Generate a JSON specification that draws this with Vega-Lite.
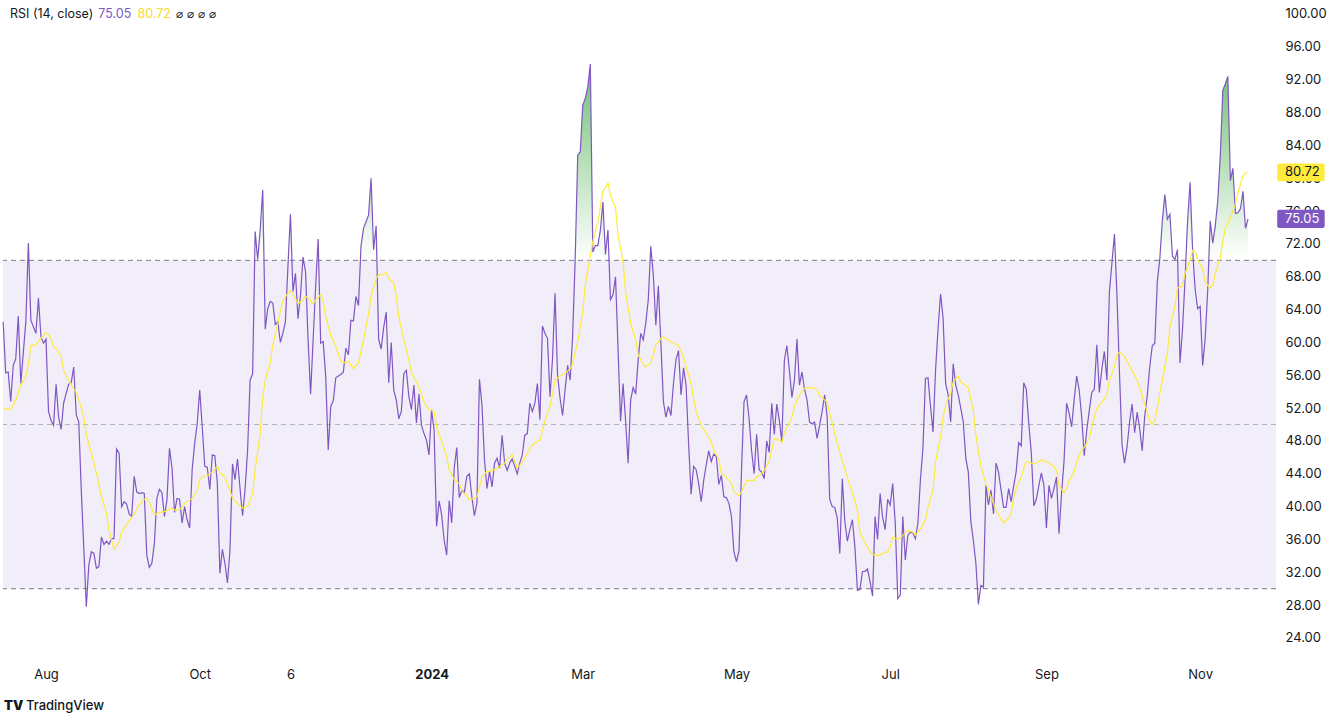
{
"$schema": "https://vega.github.io/schema/vega-lite/v6.json",
"width": 1273, "height": 660,
"padding": {"left": 3, "right": 66, "top": 0, "bottom": 60},
"autosize": {"type": "none"},
"background": "#ffffff",
"config": {"view": {"stroke": null}, "font": "Inter", "text": {"font": "Inter"}},
"datasets": {
"one": [{}],
"rsi": [
{"d":"2023-07-15","v":62.5},{"d":"2023-07-16","v":56.3},{"d":"2023-07-17","v":56.4},{"d":"2023-07-18","v":52.8},{"d":"2023-07-19","v":57.2},{"d":"2023-07-20","v":58.0},{"d":"2023-07-21","v":63.2},{"d":"2023-07-22","v":55.0},{"d":"2023-07-24","v":62.5},{"d":"2023-07-25","v":72.1},{"d":"2023-07-26","v":62.7},{"d":"2023-07-27","v":61.9},{"d":"2023-07-28","v":61.1},{"d":"2023-07-29","v":65.4},{"d":"2023-07-30","v":60.7},{"d":"2023-07-31","v":59.9},
{"d":"2023-08-01","v":60.4},{"d":"2023-08-02","v":51.6},{"d":"2023-08-03","v":50.5},{"d":"2023-08-04","v":49.9},{"d":"2023-08-05","v":54.9},{"d":"2023-08-06","v":50.9},{"d":"2023-08-07","v":49.4},{"d":"2023-08-08","v":52.6},{"d":"2023-08-09","v":53.8},{"d":"2023-08-10","v":54.9},{"d":"2023-08-11","v":55.1},{"d":"2023-08-12","v":57.0},{"d":"2023-08-13","v":51.2},{"d":"2023-08-14","v":50.3},{"d":"2023-08-15","v":42.0},{"d":"2023-08-16","v":34.9},{"d":"2023-08-17","v":27.8},{"d":"2023-08-18","v":32.9},{"d":"2023-08-19","v":34.5},{"d":"2023-08-20","v":34.3},{"d":"2023-08-21","v":32.5},{"d":"2023-08-22","v":32.7},{"d":"2023-08-23","v":36.3},{"d":"2023-08-24","v":35.4},{"d":"2023-08-25","v":35.8},{"d":"2023-08-26","v":35.4},{"d":"2023-08-27","v":36.1},{"d":"2023-08-28","v":36.1},{"d":"2023-08-29","v":47.0},{"d":"2023-08-30","v":46.5},{"d":"2023-08-31","v":40.0},
{"d":"2023-09-01","v":40.6},{"d":"2023-09-02","v":40.3},{"d":"2023-09-03","v":39.1},{"d":"2023-09-04","v":38.8},{"d":"2023-09-05","v":43.7},{"d":"2023-09-06","v":41.8},{"d":"2023-09-07","v":41.6},{"d":"2023-09-08","v":41.7},{"d":"2023-09-09","v":41.6},{"d":"2023-09-10","v":34.1},{"d":"2023-09-11","v":32.6},{"d":"2023-09-12","v":33.1},{"d":"2023-09-13","v":35.5},{"d":"2023-09-14","v":41.0},{"d":"2023-09-15","v":42.1},{"d":"2023-09-16","v":41.7},{"d":"2023-09-17","v":38.8},{"d":"2023-09-18","v":40.8},{"d":"2023-09-19","v":47.1},{"d":"2023-09-20","v":44.7},{"d":"2023-09-21","v":39.3},{"d":"2023-09-22","v":41.0},{"d":"2023-09-23","v":40.9},{"d":"2023-09-24","v":38.0},{"d":"2023-09-25","v":40.0},{"d":"2023-09-26","v":38.4},{"d":"2023-09-27","v":37.4},{"d":"2023-09-28","v":44.5},{"d":"2023-09-29","v":47.7},{"d":"2023-09-30","v":50.1},
{"d":"2023-10-01","v":54.2},{"d":"2023-10-02","v":49.7},{"d":"2023-10-03","v":44.9},{"d":"2023-10-04","v":44.8},{"d":"2023-10-05","v":42.1},{"d":"2023-10-06","v":46.3},{"d":"2023-10-07","v":46.2},{"d":"2023-10-08","v":42.8},{"d":"2023-10-09","v":31.9},{"d":"2023-10-10","v":34.8},{"d":"2023-10-11","v":33.1},{"d":"2023-10-12","v":30.7},{"d":"2023-10-13","v":34.7},{"d":"2023-10-14","v":45.2},{"d":"2023-10-15","v":43.3},{"d":"2023-10-16","v":45.8},{"d":"2023-10-17","v":42.2},{"d":"2023-10-18","v":38.9},{"d":"2023-10-19","v":42.1},{"d":"2023-10-20","v":46.9},{"d":"2023-10-21","v":55.4},{"d":"2023-10-22","v":56.2},{"d":"2023-10-23","v":73.5},{"d":"2023-10-24","v":70.1},{"d":"2023-10-25","v":73.7},{"d":"2023-10-26","v":78.6},{"d":"2023-10-27","v":61.6},{"d":"2023-10-28","v":64.1},{"d":"2023-10-29","v":65.0},{"d":"2023-10-30","v":64.8},{"d":"2023-10-31","v":62.2},
{"d":"2023-11-01","v":62.5},{"d":"2023-11-02","v":60.0},{"d":"2023-11-03","v":61.1},{"d":"2023-11-04","v":62.5},{"d":"2023-11-05","v":69.2},{"d":"2023-11-06","v":75.6},{"d":"2023-11-07","v":66.2},{"d":"2023-11-08","v":68.4},{"d":"2023-11-09","v":62.9},{"d":"2023-11-10","v":65.8},{"d":"2023-11-11","v":70.4},{"d":"2023-11-12","v":68.6},{"d":"2023-11-13","v":60.3},{"d":"2023-11-14","v":53.7},{"d":"2023-11-15","v":60.3},{"d":"2023-11-16","v":66.8},{"d":"2023-11-17","v":72.6},{"d":"2023-11-18","v":59.9},{"d":"2023-11-19","v":60.1},{"d":"2023-11-20","v":55.8},{"d":"2023-11-21","v":46.9},{"d":"2023-11-22","v":52.2},{"d":"2023-11-23","v":52.9},{"d":"2023-11-24","v":55.7},{"d":"2023-11-25","v":55.9},{"d":"2023-11-26","v":56.1},{"d":"2023-11-27","v":56.4},{"d":"2023-11-28","v":59.3},{"d":"2023-11-29","v":58.5},{"d":"2023-11-30","v":62.7},
{"d":"2023-12-01","v":62.6},{"d":"2023-12-02","v":65.6},{"d":"2023-12-03","v":64.5},{"d":"2023-12-04","v":71.7},{"d":"2023-12-05","v":73.9},{"d":"2023-12-06","v":74.7},{"d":"2023-12-07","v":75.5},{"d":"2023-12-08","v":80.0},{"d":"2023-12-09","v":71.3},{"d":"2023-12-10","v":74.2},{"d":"2023-12-11","v":60.4},{"d":"2023-12-12","v":59.2},{"d":"2023-12-13","v":61.8},{"d":"2023-12-14","v":63.7},{"d":"2023-12-15","v":55.1},{"d":"2023-12-16","v":60.0},{"d":"2023-12-17","v":54.2},{"d":"2023-12-18","v":53.0},{"d":"2023-12-19","v":50.7},{"d":"2023-12-20","v":51.6},{"d":"2023-12-21","v":56.2},{"d":"2023-12-22","v":56.6},{"d":"2023-12-23","v":53.4},{"d":"2023-12-24","v":51.8},{"d":"2023-12-25","v":54.8},{"d":"2023-12-26","v":50.2},{"d":"2023-12-27","v":53.7},{"d":"2023-12-28","v":49.9},{"d":"2023-12-29","v":48.9},{"d":"2023-12-30","v":48.1},{"d":"2023-12-31","v":46.3},
{"d":"2024-01-01","v":51.8},{"d":"2024-01-02","v":49.3},{"d":"2024-01-03","v":37.6},{"d":"2024-01-04","v":40.7},{"d":"2024-01-05","v":39.0},{"d":"2024-01-06","v":35.9},{"d":"2024-01-07","v":34.1},{"d":"2024-01-08","v":40.7},{"d":"2024-01-09","v":38.0},{"d":"2024-01-10","v":44.7},{"d":"2024-01-11","v":47.2},{"d":"2024-01-12","v":41.1},{"d":"2024-01-13","v":42.0},{"d":"2024-01-14","v":41.7},{"d":"2024-01-15","v":43.7},{"d":"2024-01-16","v":44.0},{"d":"2024-01-17","v":41.2},{"d":"2024-01-18","v":38.9},{"d":"2024-01-19","v":40.4},{"d":"2024-01-20","v":55.5},{"d":"2024-01-21","v":52.4},{"d":"2024-01-22","v":45.7},{"d":"2024-01-23","v":42.2},{"d":"2024-01-24","v":44.3},{"d":"2024-01-25","v":42.4},{"d":"2024-01-26","v":45.3},{"d":"2024-01-27","v":45.9},{"d":"2024-01-28","v":44.7},{"d":"2024-01-29","v":48.7},{"d":"2024-01-30","v":45.3},{"d":"2024-01-31","v":44.4},
{"d":"2024-02-01","v":45.3},{"d":"2024-02-02","v":45.8},{"d":"2024-02-03","v":44.9},{"d":"2024-02-04","v":44.0},{"d":"2024-02-05","v":45.3},{"d":"2024-02-06","v":46.3},{"d":"2024-02-07","v":48.7},{"d":"2024-02-08","v":48.9},{"d":"2024-02-09","v":52.6},{"d":"2024-02-10","v":51.6},{"d":"2024-02-11","v":52.6},{"d":"2024-02-12","v":55.0},{"d":"2024-02-13","v":50.6},{"d":"2024-02-14","v":62.0},{"d":"2024-02-15","v":61.1},{"d":"2024-02-16","v":60.5},{"d":"2024-02-17","v":53.4},{"d":"2024-02-18","v":58.0},{"d":"2024-02-19","v":66.0},{"d":"2024-02-20","v":56.0},{"d":"2024-02-21","v":53.2},{"d":"2024-02-22","v":51.1},{"d":"2024-02-23","v":54.3},{"d":"2024-02-24","v":57.2},{"d":"2024-02-25","v":55.4},{"d":"2024-02-26","v":60.9},{"d":"2024-02-27","v":70.2},{"d":"2024-02-28","v":82.8},{"d":"2024-02-29","v":83.2},
{"d":"2024-03-01","v":88.9},{"d":"2024-03-02","v":89.7},{"d":"2024-03-03","v":91.1},{"d":"2024-03-04","v":93.9},{"d":"2024-03-05","v":71.0},{"d":"2024-03-06","v":71.8},{"d":"2024-03-07","v":71.8},{"d":"2024-03-08","v":73.7},{"d":"2024-03-09","v":77.1},{"d":"2024-03-10","v":70.7},{"d":"2024-03-11","v":73.7},{"d":"2024-03-12","v":65.2},{"d":"2024-03-13","v":65.8},{"d":"2024-03-14","v":68.0},{"d":"2024-03-15","v":59.3},{"d":"2024-03-16","v":50.4},{"d":"2024-03-17","v":55.0},{"d":"2024-03-18","v":50.5},{"d":"2024-03-19","v":45.3},{"d":"2024-03-20","v":53.0},{"d":"2024-03-21","v":54.5},{"d":"2024-03-22","v":53.7},{"d":"2024-03-23","v":57.9},{"d":"2024-03-24","v":61.1},{"d":"2024-03-25","v":60.3},{"d":"2024-03-26","v":62.3},{"d":"2024-03-27","v":65.2},{"d":"2024-03-28","v":71.7},{"d":"2024-03-29","v":68.2},{"d":"2024-03-30","v":62.1},{"d":"2024-03-31","v":66.9},
{"d":"2024-04-01","v":59.9},{"d":"2024-04-02","v":52.8},{"d":"2024-04-03","v":50.9},{"d":"2024-04-04","v":52.2},{"d":"2024-04-05","v":51.1},{"d":"2024-04-06","v":55.0},{"d":"2024-04-07","v":57.9},{"d":"2024-04-08","v":59.0},{"d":"2024-04-09","v":53.6},{"d":"2024-04-10","v":56.9},{"d":"2024-04-11","v":54.8},{"d":"2024-04-12","v":47.7},{"d":"2024-04-13","v":41.5},{"d":"2024-04-14","v":44.9},{"d":"2024-04-15","v":44.5},{"d":"2024-04-16","v":42.8},{"d":"2024-04-17","v":40.6},{"d":"2024-04-18","v":43.2},{"d":"2024-04-19","v":45.1},{"d":"2024-04-20","v":46.8},{"d":"2024-04-21","v":45.5},{"d":"2024-04-22","v":46.4},{"d":"2024-04-23","v":46.1},{"d":"2024-04-24","v":42.7},{"d":"2024-04-25","v":43.8},{"d":"2024-04-26","v":41.2},{"d":"2024-04-27","v":41.1},{"d":"2024-04-28","v":40.4},{"d":"2024-04-29","v":38.8},{"d":"2024-04-30","v":34.5},
{"d":"2024-05-01","v":33.3},{"d":"2024-05-02","v":34.6},{"d":"2024-05-03","v":44.5},{"d":"2024-05-04","v":52.8},{"d":"2024-05-05","v":53.6},{"d":"2024-05-06","v":50.7},{"d":"2024-05-07","v":46.8},{"d":"2024-05-08","v":44.0},{"d":"2024-05-09","v":48.8},{"d":"2024-05-10","v":44.5},{"d":"2024-05-11","v":44.2},{"d":"2024-05-12","v":43.4},{"d":"2024-05-13","v":48.0},{"d":"2024-05-14","v":46.6},{"d":"2024-05-15","v":52.6},{"d":"2024-05-16","v":48.8},{"d":"2024-05-17","v":52.5},{"d":"2024-05-18","v":50.5},{"d":"2024-05-19","v":47.9},{"d":"2024-05-20","v":57.8},{"d":"2024-05-21","v":59.6},{"d":"2024-05-22","v":56.6},{"d":"2024-05-23","v":53.3},{"d":"2024-05-24","v":55.4},{"d":"2024-05-25","v":60.4},{"d":"2024-05-26","v":54.8},{"d":"2024-05-27","v":56.4},{"d":"2024-05-28","v":54.3},{"d":"2024-05-29","v":53.0},{"d":"2024-05-30","v":50.3},{"d":"2024-05-31","v":50.1},
{"d":"2024-06-01","v":50.3},{"d":"2024-06-02","v":48.3},{"d":"2024-06-03","v":49.9},{"d":"2024-06-04","v":51.6},{"d":"2024-06-05","v":53.6},{"d":"2024-06-06","v":50.9},{"d":"2024-06-07","v":40.9},{"d":"2024-06-08","v":40.0},{"d":"2024-06-09","v":39.9},{"d":"2024-06-10","v":38.6},{"d":"2024-06-11","v":34.3},{"d":"2024-06-12","v":43.4},{"d":"2024-06-13","v":38.2},{"d":"2024-06-14","v":35.8},{"d":"2024-06-15","v":37.2},{"d":"2024-06-16","v":38.4},{"d":"2024-06-17","v":35.1},{"d":"2024-06-18","v":29.8},{"d":"2024-06-19","v":29.9},{"d":"2024-06-20","v":32.1},{"d":"2024-06-21","v":32.1},{"d":"2024-06-22","v":32.4},{"d":"2024-06-23","v":30.9},{"d":"2024-06-24","v":29.1},{"d":"2024-06-25","v":38.8},{"d":"2024-06-26","v":36.0},{"d":"2024-06-27","v":41.6},{"d":"2024-06-28","v":38.7},{"d":"2024-06-29","v":37.2},{"d":"2024-06-30","v":40.9},
{"d":"2024-07-01","v":40.2},{"d":"2024-07-02","v":42.8},{"d":"2024-07-03","v":38.0},{"d":"2024-07-04","v":28.8},{"d":"2024-07-05","v":29.2},{"d":"2024-07-06","v":38.8},{"d":"2024-07-07","v":33.5},{"d":"2024-07-08","v":36.5},{"d":"2024-07-09","v":36.9},{"d":"2024-07-10","v":36.8},{"d":"2024-07-11","v":36.1},{"d":"2024-07-12","v":38.0},{"d":"2024-07-13","v":43.3},{"d":"2024-07-14","v":47.1},{"d":"2024-07-15","v":55.6},{"d":"2024-07-16","v":55.7},{"d":"2024-07-17","v":52.2},{"d":"2024-07-18","v":49.1},{"d":"2024-07-19","v":56.6},{"d":"2024-07-20","v":61.7},{"d":"2024-07-21","v":65.9},{"d":"2024-07-22","v":62.9},{"d":"2024-07-23","v":55.0},{"d":"2024-07-24","v":53.6},{"d":"2024-07-25","v":50.3},{"d":"2024-07-26","v":57.4},{"d":"2024-07-27","v":54.8},{"d":"2024-07-28","v":53.6},{"d":"2024-07-29","v":52.0},{"d":"2024-07-30","v":50.3},{"d":"2024-07-31","v":45.9},
{"d":"2024-08-01","v":44.2},{"d":"2024-08-02","v":38.2},{"d":"2024-08-03","v":35.9},{"d":"2024-08-04","v":33.1},{"d":"2024-08-05","v":28.1},{"d":"2024-08-06","v":30.4},{"d":"2024-08-07","v":30.2},{"d":"2024-08-08","v":42.6},{"d":"2024-08-09","v":40.2},{"d":"2024-08-10","v":42.0},{"d":"2024-08-11","v":39.1},{"d":"2024-08-12","v":45.3},{"d":"2024-08-13","v":44.2},{"d":"2024-08-14","v":42.0},{"d":"2024-08-15","v":39.9},{"d":"2024-08-16","v":39.9},{"d":"2024-08-17","v":42.2},{"d":"2024-08-18","v":40.6},{"d":"2024-08-19","v":42.5},{"d":"2024-08-20","v":44.3},{"d":"2024-08-21","v":47.8},{"d":"2024-08-22","v":47.4},{"d":"2024-08-23","v":55.1},{"d":"2024-08-24","v":54.3},{"d":"2024-08-25","v":50.1},{"d":"2024-08-26","v":46.5},{"d":"2024-08-27","v":40.1},{"d":"2024-08-28","v":40.9},{"d":"2024-08-29","v":42.6},{"d":"2024-08-30","v":44.1},{"d":"2024-08-31","v":42.6},
{"d":"2024-09-01","v":37.4},{"d":"2024-09-02","v":42.6},{"d":"2024-09-03","v":41.0},{"d":"2024-09-04","v":42.2},{"d":"2024-09-05","v":43.6},{"d":"2024-09-06","v":36.7},{"d":"2024-09-07","v":41.6},{"d":"2024-09-08","v":45.6},{"d":"2024-09-09","v":52.6},{"d":"2024-09-10","v":51.4},{"d":"2024-09-11","v":49.7},{"d":"2024-09-12","v":53.0},{"d":"2024-09-13","v":55.9},{"d":"2024-09-14","v":54.2},{"d":"2024-09-15","v":50.9},{"d":"2024-09-16","v":46.2},{"d":"2024-09-17","v":49.3},{"d":"2024-09-18","v":51.7},{"d":"2024-09-19","v":53.9},{"d":"2024-09-20","v":54.3},{"d":"2024-09-21","v":59.7},{"d":"2024-09-22","v":53.9},{"d":"2024-09-23","v":56.8},{"d":"2024-09-24","v":58.9},{"d":"2024-09-25","v":55.4},{"d":"2024-09-26","v":66.2},{"d":"2024-09-27","v":69.7},{"d":"2024-09-28","v":73.2},{"d":"2024-09-29","v":65.6},{"d":"2024-09-30","v":56.2},
{"d":"2024-10-01","v":47.5},{"d":"2024-10-02","v":45.3},{"d":"2024-10-03","v":47.3},{"d":"2024-10-04","v":50.3},{"d":"2024-10-05","v":52.5},{"d":"2024-10-06","v":49.0},{"d":"2024-10-07","v":51.5},{"d":"2024-10-08","v":49.5},{"d":"2024-10-09","v":46.8},{"d":"2024-10-10","v":51.0},{"d":"2024-10-11","v":53.5},{"d":"2024-10-12","v":57.0},{"d":"2024-10-13","v":59.6},{"d":"2024-10-14","v":59.9},{"d":"2024-10-15","v":67.4},{"d":"2024-10-16","v":70.2},{"d":"2024-10-17","v":74.9},{"d":"2024-10-18","v":78.0},{"d":"2024-10-19","v":75.0},{"d":"2024-10-20","v":75.6},{"d":"2024-10-21","v":70.5},{"d":"2024-10-22","v":70.1},{"d":"2024-10-23","v":71.3},{"d":"2024-10-24","v":57.5},{"d":"2024-10-25","v":61.6},{"d":"2024-10-26","v":67.6},{"d":"2024-10-27","v":74.7},{"d":"2024-10-28","v":79.5},{"d":"2024-10-29","v":71.3},{"d":"2024-10-30","v":66.5},{"d":"2024-10-31","v":64.1},
{"d":"2024-11-01","v":64.4},{"d":"2024-11-02","v":57.2},{"d":"2024-11-03","v":60.5},{"d":"2024-11-04","v":66.3},{"d":"2024-11-05","v":74.8},{"d":"2024-11-06","v":72.1},{"d":"2024-11-07","v":74.2},{"d":"2024-11-08","v":77.3},{"d":"2024-11-09","v":82.8},{"d":"2024-11-10","v":90.7},{"d":"2024-11-11","v":91.5},{"d":"2024-11-12","v":92.4},{"d":"2024-11-13","v":79.7},{"d":"2024-11-14","v":81.2},{"d":"2024-11-15","v":75.7},{"d":"2024-11-16","v":75.8},{"d":"2024-11-17","v":76.3},{"d":"2024-11-18","v":78.4},{"d":"2024-11-19","v":73.9},{"d":"2024-11-20","v":75.05}
],
"ma": [
{"d":"2023-07-15","v":52.0},{"d":"2023-07-18","v":51.8},{"d":"2023-07-20","v":53.0},{"d":"2023-07-22","v":54.8},{"d":"2023-07-24","v":55.8},{"d":"2023-07-25","v":57.4},{"d":"2023-07-26","v":59.6},{"d":"2023-07-28","v":59.7},{"d":"2023-07-30","v":60.5},{"d":"2023-08-01","v":61.2},{"d":"2023-08-03","v":60.5},{"d":"2023-08-04","v":59.4},{"d":"2023-08-05","v":59.3},{"d":"2023-08-07","v":58.3},{"d":"2023-08-08","v":56.6},{"d":"2023-08-10","v":55.3},{"d":"2023-08-13","v":53.9},{"d":"2023-08-14","v":53.0},{"d":"2023-08-16","v":50.9},{"d":"2023-08-17","v":48.7},{"d":"2023-08-19","v":46.5},{"d":"2023-08-21","v":44.1},{"d":"2023-08-23","v":41.2},{"d":"2023-08-25","v":39.2},{"d":"2023-08-26","v":37.1},{"d":"2023-08-28","v":34.8},{"d":"2023-08-30","v":35.7},{"d":"2023-08-31","v":36.9},
{"d":"2023-09-02","v":37.8},{"d":"2023-09-03","v":38.3},{"d":"2023-09-05","v":39.1},{"d":"2023-09-07","v":40.2},{"d":"2023-09-09","v":40.9},{"d":"2023-09-10","v":41.0},{"d":"2023-09-11","v":40.6},{"d":"2023-09-13","v":39.0},{"d":"2023-09-15","v":39.3},{"d":"2023-09-17","v":39.4},{"d":"2023-09-20","v":39.8},{"d":"2023-09-21","v":39.6},{"d":"2023-09-23","v":39.6},{"d":"2023-09-25","v":40.4},{"d":"2023-09-28","v":41.0},{"d":"2023-09-30","v":41.9},
{"d":"2023-10-01","v":43.2},{"d":"2023-10-02","v":43.7},{"d":"2023-10-04","v":43.7},{"d":"2023-10-06","v":44.2},{"d":"2023-10-08","v":44.9},{"d":"2023-10-09","v":44.2},{"d":"2023-10-11","v":43.6},{"d":"2023-10-13","v":42.0},{"d":"2023-10-14","v":41.0},{"d":"2023-10-16","v":40.4},{"d":"2023-10-18","v":39.8},{"d":"2023-10-20","v":40.0},{"d":"2023-10-22","v":41.6},{"d":"2023-10-23","v":44.5},{"d":"2023-10-25","v":48.9},{"d":"2023-10-26","v":53.3},{"d":"2023-10-27","v":55.4},{"d":"2023-10-29","v":57.5},{"d":"2023-10-30","v":59.7},
{"d":"2023-11-01","v":62.3},{"d":"2023-11-02","v":63.9},{"d":"2023-11-03","v":65.0},{"d":"2023-11-05","v":66.0},{"d":"2023-11-06","v":66.3},{"d":"2023-11-07","v":65.9},{"d":"2023-11-09","v":64.7},{"d":"2023-11-11","v":65.2},{"d":"2023-11-12","v":65.6},{"d":"2023-11-14","v":65.1},{"d":"2023-11-15","v":64.7},{"d":"2023-11-16","v":65.2},{"d":"2023-11-18","v":65.8},{"d":"2023-11-19","v":65.0},{"d":"2023-11-20","v":63.1},{"d":"2023-11-22","v":60.9},{"d":"2023-11-24","v":59.5},{"d":"2023-11-26","v":57.7},{"d":"2023-11-28","v":57.5},{"d":"2023-11-29","v":57.7},
{"d":"2023-12-01","v":56.8},{"d":"2023-12-03","v":57.5},{"d":"2023-12-05","v":60.3},{"d":"2023-12-07","v":63.5},{"d":"2023-12-08","v":65.6},{"d":"2023-12-10","v":67.8},{"d":"2023-12-11","v":68.2},{"d":"2023-12-13","v":68.3},{"d":"2023-12-14","v":68.5},{"d":"2023-12-15","v":67.8},{"d":"2023-12-17","v":67.2},{"d":"2023-12-18","v":65.6},{"d":"2023-12-19","v":63.1},{"d":"2023-12-21","v":60.3},{"d":"2023-12-23","v":57.9},{"d":"2023-12-24","v":56.3},{"d":"2023-12-26","v":55.2},{"d":"2023-12-28","v":53.7},{"d":"2023-12-29","v":52.7},{"d":"2023-12-31","v":51.8},
{"d":"2024-01-02","v":51.6},{"d":"2024-01-03","v":49.7},{"d":"2024-01-05","v":47.9},{"d":"2024-01-07","v":46.1},{"d":"2024-01-08","v":44.5},{"d":"2024-01-10","v":43.3},{"d":"2024-01-12","v":42.8},{"d":"2024-01-13","v":41.9},{"d":"2024-01-15","v":41.3},{"d":"2024-01-16","v":40.8},{"d":"2024-01-18","v":41.0},{"d":"2024-01-19","v":41.2},{"d":"2024-01-21","v":43.6},{"d":"2024-01-23","v":44.3},{"d":"2024-01-24","v":44.3},{"d":"2024-01-26","v":44.5},{"d":"2024-01-28","v":44.9},{"d":"2024-01-30","v":45.3},{"d":"2024-01-31","v":45.8},
{"d":"2024-02-02","v":46.3},{"d":"2024-02-03","v":45.5},{"d":"2024-02-04","v":44.7},{"d":"2024-02-06","v":45.4},{"d":"2024-02-08","v":46.5},{"d":"2024-02-10","v":47.5},{"d":"2024-02-13","v":48.1},{"d":"2024-02-15","v":50.5},{"d":"2024-02-17","v":52.2},{"d":"2024-02-18","v":53.6},{"d":"2024-02-19","v":55.4},{"d":"2024-02-21","v":55.9},{"d":"2024-02-23","v":56.2},{"d":"2024-02-25","v":56.8},{"d":"2024-02-26","v":57.4},{"d":"2024-02-28","v":60.1},
{"d":"2024-03-01","v":63.7},{"d":"2024-03-02","v":67.0},{"d":"2024-03-04","v":70.6},{"d":"2024-03-05","v":72.3},{"d":"2024-03-07","v":74.7},{"d":"2024-03-08","v":76.5},{"d":"2024-03-09","v":78.4},{"d":"2024-03-11","v":79.4},{"d":"2024-03-12","v":77.9},{"d":"2024-03-14","v":76.4},{"d":"2024-03-15","v":73.1},{"d":"2024-03-17","v":69.8},{"d":"2024-03-18","v":66.2},{"d":"2024-03-19","v":64.2},{"d":"2024-03-20","v":62.3},{"d":"2024-03-22","v":60.3},{"d":"2024-03-23","v":58.5},{"d":"2024-03-25","v":57.3},{"d":"2024-03-26","v":57.0},{"d":"2024-03-28","v":57.5},{"d":"2024-03-29","v":58.5},{"d":"2024-03-30","v":59.7},
{"d":"2024-04-01","v":60.5},{"d":"2024-04-02","v":60.7},{"d":"2024-04-04","v":60.3},{"d":"2024-04-06","v":59.9},{"d":"2024-04-08","v":59.6},{"d":"2024-04-09","v":58.9},{"d":"2024-04-10","v":58.1},{"d":"2024-04-11","v":57.0},{"d":"2024-04-13","v":55.0},{"d":"2024-04-14","v":53.1},{"d":"2024-04-15","v":51.6},{"d":"2024-04-17","v":49.9},{"d":"2024-04-19","v":48.9},{"d":"2024-04-21","v":47.9},{"d":"2024-04-22","v":46.9},{"d":"2024-04-24","v":45.7},{"d":"2024-04-25","v":44.1},{"d":"2024-04-27","v":43.6},{"d":"2024-04-29","v":42.8},{"d":"2024-04-30","v":41.8},
{"d":"2024-05-02","v":41.3},{"d":"2024-05-03","v":41.8},{"d":"2024-05-05","v":43.2},{"d":"2024-05-06","v":43.2},{"d":"2024-05-08","v":43.2},{"d":"2024-05-09","v":43.6},{"d":"2024-05-11","v":44.0},{"d":"2024-05-12","v":44.4},{"d":"2024-05-14","v":45.5},{"d":"2024-05-15","v":46.9},{"d":"2024-05-16","v":48.3},{"d":"2024-05-18","v":48.1},{"d":"2024-05-19","v":47.8},{"d":"2024-05-20","v":49.0},{"d":"2024-05-22","v":50.2},{"d":"2024-05-23","v":50.9},{"d":"2024-05-24","v":52.2},{"d":"2024-05-26","v":53.6},{"d":"2024-05-28","v":54.4},{"d":"2024-05-30","v":54.5},
{"d":"2024-06-01","v":54.4},{"d":"2024-06-02","v":54.3},{"d":"2024-06-03","v":53.5},{"d":"2024-06-05","v":53.0},{"d":"2024-06-06","v":52.7},{"d":"2024-06-07","v":51.4},{"d":"2024-06-09","v":48.9},{"d":"2024-06-11","v":46.6},{"d":"2024-06-12","v":45.6},{"d":"2024-06-14","v":43.6},{"d":"2024-06-16","v":41.7},{"d":"2024-06-18","v":39.6},{"d":"2024-06-19","v":36.9},{"d":"2024-06-21","v":35.6},{"d":"2024-06-23","v":34.5},{"d":"2024-06-24","v":34.2},{"d":"2024-06-26","v":34.0},{"d":"2024-06-28","v":34.3},{"d":"2024-06-30","v":34.5},
{"d":"2024-07-01","v":35.1},{"d":"2024-07-02","v":36.3},{"d":"2024-07-04","v":36.0},{"d":"2024-07-06","v":36.5},{"d":"2024-07-08","v":37.1},{"d":"2024-07-10","v":36.9},{"d":"2024-07-11","v":36.5},{"d":"2024-07-13","v":37.3},{"d":"2024-07-15","v":38.4},{"d":"2024-07-16","v":39.9},{"d":"2024-07-18","v":42.0},{"d":"2024-07-19","v":45.5},{"d":"2024-07-21","v":48.5},{"d":"2024-07-22","v":50.9},{"d":"2024-07-23","v":52.4},{"d":"2024-07-25","v":53.8},{"d":"2024-07-26","v":55.2},{"d":"2024-07-28","v":55.9},{"d":"2024-07-29","v":55.2},
{"d":"2024-08-01","v":54.5},{"d":"2024-08-03","v":51.6},{"d":"2024-08-04","v":48.7},{"d":"2024-08-06","v":44.9},{"d":"2024-08-08","v":42.8},{"d":"2024-08-10","v":41.2},{"d":"2024-08-12","v":39.5},{"d":"2024-08-14","v":38.5},{"d":"2024-08-15","v":38.0},{"d":"2024-08-17","v":38.6},{"d":"2024-08-18","v":39.2},{"d":"2024-08-19","v":41.1},{"d":"2024-08-20","v":42.2},{"d":"2024-08-22","v":43.6},{"d":"2024-08-23","v":44.7},{"d":"2024-08-24","v":45.5},{"d":"2024-08-26","v":45.3},{"d":"2024-08-27","v":45.2},{"d":"2024-08-29","v":45.5},{"d":"2024-08-30","v":45.7},
{"d":"2024-09-01","v":45.5},{"d":"2024-09-02","v":45.3},{"d":"2024-09-04","v":44.9},{"d":"2024-09-05","v":44.4},{"d":"2024-09-06","v":42.6},{"d":"2024-09-08","v":41.7},{"d":"2024-09-09","v":42.2},{"d":"2024-09-10","v":43.2},{"d":"2024-09-12","v":44.2},{"d":"2024-09-13","v":45.5},{"d":"2024-09-15","v":46.9},{"d":"2024-09-16","v":47.2},{"d":"2024-09-18","v":48.3},{"d":"2024-09-19","v":49.7},{"d":"2024-09-21","v":52.0},{"d":"2024-09-23","v":52.7},{"d":"2024-09-25","v":53.6},{"d":"2024-09-26","v":55.4},{"d":"2024-09-28","v":57.0},{"d":"2024-09-29","v":58.5},{"d":"2024-09-30","v":58.8},
{"d":"2024-10-02","v":58.3},{"d":"2024-10-03","v":57.7},{"d":"2024-10-04","v":57.1},{"d":"2024-10-05","v":56.6},{"d":"2024-10-07","v":55.4},{"d":"2024-10-09","v":53.5},{"d":"2024-10-11","v":51.5},{"d":"2024-10-12","v":50.5},{"d":"2024-10-13","v":50.0},{"d":"2024-10-14","v":50.5},{"d":"2024-10-15","v":52.0},{"d":"2024-10-16","v":53.8},{"d":"2024-10-17","v":55.4},{"d":"2024-10-19","v":58.7},{"d":"2024-10-20","v":61.9},{"d":"2024-10-22","v":64.4},{"d":"2024-10-23","v":66.6},{"d":"2024-10-25","v":66.9},{"d":"2024-10-26","v":68.4},{"d":"2024-10-28","v":70.0},{"d":"2024-10-29","v":71.2},{"d":"2024-10-30","v":71.1},{"d":"2024-10-31","v":70.1},
{"d":"2024-11-02","v":69.0},{"d":"2024-11-03","v":67.4},{"d":"2024-11-05","v":66.6},{"d":"2024-11-06","v":67.0},{"d":"2024-11-07","v":68.4},{"d":"2024-11-09","v":70.4},{"d":"2024-11-10","v":72.3},{"d":"2024-11-11","v":73.9},{"d":"2024-11-13","v":75.1},{"d":"2024-11-15","v":76.9},{"d":"2024-11-16","v":78.2},{"d":"2024-11-18","v":80.3},{"d":"2024-11-19","v":80.6},{"d":"2024-11-20","v":80.72}
]
},
"layer": [
{
"data": {"name": "one"},
"layer": [
{"mark": {"type": "rect", "fill": "#7E57C2", "fillOpacity": 0.1},
 "encoding": {
  "y": {"datum": 70, "type": "quantitative", "scale": {"domain": [21.32, 101.705], "nice": false, "zero": false},
        "axis": {"orient": "right", "values": [24,28,32,36,40,44,48,52,56,60,64,68,72,76,80,84,88,92,96,100], "format": ".2f", "ticks": false, "domain": false, "grid": false, "title": null, "labelPadding": 9, "labelFontSize": 13, "labelColor": "#131722", "labelFont": "Inter", "labelOverlap": false, "zindex": 0}},
  "y2": {"datum": 30}}},
{"mark": {"type": "rule", "stroke": "#787B86", "strokeWidth": 1, "strokeDash": [5, 4]},
 "encoding": {"y": {"datum": 70, "type": "quantitative",
        "axis": {"orient": "right", "values": [24,28,32,36,40,44,48,52,56,60,64,68,72,76,80,84,88,92,96,100], "format": ".2f", "ticks": false, "domain": false, "grid": false, "title": null, "labelPadding": 9, "labelFontSize": 13, "labelColor": "#131722", "labelFont": "Inter", "labelOverlap": false, "zindex": 0}}}},
{"mark": {"type": "rule", "stroke": "#787B86", "strokeOpacity": 0.5, "strokeWidth": 1, "strokeDash": [5, 4]},
 "encoding": {"y": {"datum": 50, "type": "quantitative",
        "axis": {"orient": "right", "values": [24,28,32,36,40,44,48,52,56,60,64,68,72,76,80,84,88,92,96,100], "format": ".2f", "ticks": false, "domain": false, "grid": false, "title": null, "labelPadding": 9, "labelFontSize": 13, "labelColor": "#131722", "labelFont": "Inter", "labelOverlap": false, "zindex": 0}}}},
{"mark": {"type": "rule", "stroke": "#787B86", "strokeWidth": 1, "strokeDash": [5, 4]},
 "encoding": {"y": {"datum": 30, "type": "quantitative",
        "axis": {"orient": "right", "values": [24,28,32,36,40,44,48,52,56,60,64,68,72,76,80,84,88,92,96,100], "format": ".2f", "ticks": false, "domain": false, "grid": false, "title": null, "labelPadding": 9, "labelFontSize": 13, "labelColor": "#131722", "labelFont": "Inter", "labelOverlap": false, "zindex": 0}}}}
]
},
{
"data": {"name": "rsi"},
"mark": {"type": "area", "fill": {"gradient": "linear", "x1": 0, "y1": 0, "x2": 0, "y2": 1, "stops": [{"offset": 0, "color": "rgba(76,175,80,0.8)"}, {"offset": 1, "color": "rgba(76,175,80,0)"}]}},
"encoding": {
 "x": {"field": "d", "type": "temporal"},
 "y": {"field": "v", "type": "quantitative", "scale": {"domain": [70, 101.705], "range": [260.31, 0], "clamp": true, "nice": false, "zero": false}, "axis": null},
 "y2": {"datum": 70}
}
},
{
"layer": [
{"data": {"name": "rsi"},
 "mark": {"type": "line", "stroke": "#7E57C2", "strokeWidth": 1.2},
 "encoding": {
  "x": {"field": "d", "type": "temporal", "scale": {"type": "utc", "domain": [{"year": 2023, "month": 7, "date": 14, "hours": 22, "minutes": 29, "utc": true}, {"year": 2024, "month": 12, "date": 1, "hours": 2, "minutes": 24, "utc": true}]},
        "axis": {"values": [{"year": 2023, "month": 8, "date": 1, "utc": true}, {"year": 2023, "month": 10, "date": 1, "utc": true}, {"year": 2023, "month": 11, "date": 6, "utc": true}, {"year": 2024, "month": 1, "date": 1, "utc": true}, {"year": 2024, "month": 3, "date": 1, "utc": true}, {"year": 2024, "month": 5, "date": 1, "utc": true}, {"year": 2024, "month": 7, "date": 1, "utc": true}, {"year": 2024, "month": 9, "date": 1, "utc": true}, {"year": 2024, "month": 11, "date": 1, "utc": true}],
                 "labelExpr": "utcmonth(datum.value) == 0 ? '2024' : (utcdate(datum.value) == 6 ? '6' : utcFormat(datum.value, '%b'))",
                 "labelFontWeight": {"condition": {"test": "utcmonth(datum.value) == 0", "value": "bold"}, "value": "normal"},
                 "ticks": false, "domain": false, "grid": false, "title": null, "labelPadding": 8, "labelFontSize": 13, "labelColor": "#131722", "labelFont": "Inter", "labelFlush": false, "labelOverlap": false}},
  "y": {"field": "v", "type": "quantitative", "scale": {"domain": [21.32, 101.705], "nice": false, "zero": false}, "axis": null}}},
{"data": {"name": "ma"},
 "mark": {"type": "line", "stroke": "#FFEB3B", "strokeWidth": 1.2},
 "encoding": {
  "x": {"field": "d", "type": "temporal"},
  "y": {"field": "v", "type": "quantitative", "axis": null}}},
{"data": {"name": "one"},
 "mark": {"type": "text", "text": "RSI (14, close)", "align": "left", "baseline": "middle", "fontSize": 12.5, "color": "#131722"},
 "encoding": {"x": {"datum": {"year": 2023, "month": 7, "date": 17, "hours": 17, "utc": true}, "type": "temporal"}, "y": {"datum": 100.0, "type": "quantitative", "axis": null}}},
{"data": {"name": "one"},
 "mark": {"type": "text", "text": "75.05", "align": "left", "baseline": "middle", "fontSize": 12.5, "color": "#7E57C2"},
 "encoding": {"x": {"datum": {"year": 2023, "month": 8, "date": 21, "hours": 18, "utc": true}, "type": "temporal"}, "y": {"datum": 100.0, "type": "quantitative", "axis": null}}},
{"data": {"name": "one"},
 "mark": {"type": "text", "text": "80.72", "align": "left", "baseline": "middle", "fontSize": 12.5, "color": "#F5DC2E"},
 "encoding": {"x": {"datum": {"year": 2023, "month": 9, "date": 6, "hours": 8, "utc": true}, "type": "temporal"}, "y": {"datum": 100.0, "type": "quantitative", "axis": null}}},
{"data": {"name": "one"},
 "mark": {"type": "text", "text": "⌀ ⌀ ⌀ ⌀", "align": "left", "baseline": "middle", "fontSize": 12, "font": "DejaVu Sans", "color": "#131722"},
 "encoding": {"x": {"datum": {"year": 2023, "month": 9, "date": 21, "hours": 14, "utc": true}, "type": "temporal"}, "y": {"datum": 100.0, "type": "quantitative", "axis": null}}},
{"data": {"name": "one"},
 "mark": {"type": "rect", "fill": "#FFEB3B", "cornerRadius": 2},
 "encoding": {"x": {"datum": {"year": 2024, "month": 12, "date": 1, "hours": 14, "utc": true}, "type": "temporal"}, "x2": {"datum": {"year": 2024, "month": 12, "date": 20, "hours": 10, "utc": true}}, "y": {"datum": 81.8, "type": "quantitative", "axis": null}, "y2": {"datum": 79.62}}},
{"data": {"name": "one"},
 "mark": {"type": "text", "text": "80.72", "align": "left", "baseline": "middle", "fontSize": 13, "color": "#131722"},
 "encoding": {"x": {"datum": {"year": 2024, "month": 12, "date": 4, "hours": 16, "utc": true}, "type": "temporal"}, "y": {"datum": 80.72, "type": "quantitative", "axis": null}}},
{"data": {"name": "one"},
 "mark": {"type": "rect", "fill": "#7E57C2", "cornerRadius": 2},
 "encoding": {"x": {"datum": {"year": 2024, "month": 12, "date": 1, "hours": 14, "utc": true}, "type": "temporal"}, "x2": {"datum": {"year": 2024, "month": 12, "date": 20, "hours": 10, "utc": true}}, "y": {"datum": 76.15, "type": "quantitative", "axis": null}, "y2": {"datum": 73.95}}},
{"data": {"name": "one"},
 "mark": {"type": "text", "text": "75.05", "align": "left", "baseline": "middle", "fontSize": 13, "color": "#ffffff"},
 "encoding": {"x": {"datum": {"year": 2024, "month": 12, "date": 4, "hours": 16, "utc": true}, "type": "temporal"}, "y": {"datum": 75.05, "type": "quantitative", "axis": null}}},
{"data": {"name": "one"},
 "mark": {"type": "text", "text": "TV", "align": "left", "baseline": "middle", "fontSize": 13, "fontWeight": 900, "color": "#131722"},
 "encoding": {"x": {"datum": {"year": 2023, "month": 7, "date": 15, "hours": 8, "utc": true}, "type": "temporal"}, "y": {"datum": 15.71, "type": "quantitative", "axis": null}}},
{"data": {"name": "one"},
 "mark": {"type": "text", "text": "TradingView", "align": "left", "baseline": "middle", "fontSize": 13, "fontWeight": 500, "color": "#131722"},
 "encoding": {"x": {"datum": {"year": 2023, "month": 7, "date": 24, "hours": 1, "utc": true}, "type": "temporal"}, "y": {"datum": 15.71, "type": "quantitative", "axis": null}}}
]
}
],
"resolve": {"scale": {"y": "independent"}}
}
